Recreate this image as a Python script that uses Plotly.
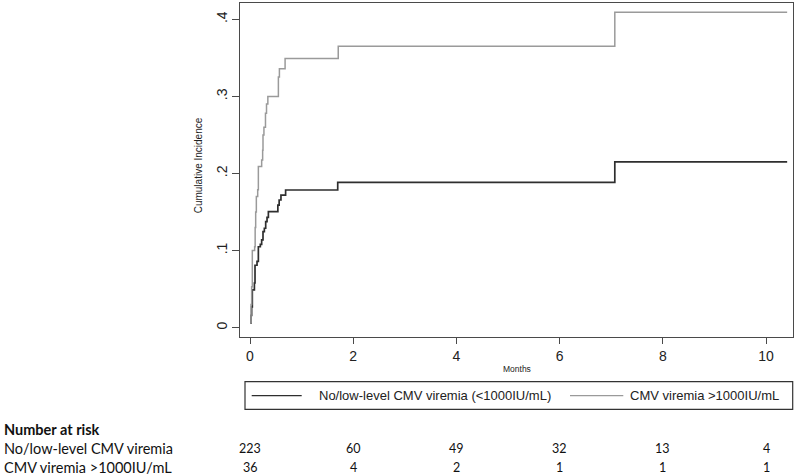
import plotly.graph_objects as go

# ---- data ----
low_name = "No/low-level CMV viremia (<1000IU/mL)"
high_name = "CMV viremia >1000IU/mL"

low_months = [0.006, 0.02, 0.032, 0.045, 0.085, 0.097, 0.136, 0.162, 0.20, 0.226, 0.252,
              0.278, 0.304, 0.33, 0.356, 0.54, 0.565, 0.60, 0.69, 1.70, 7.07, 10.41]
low_cuminc = [0.006, 0.016, 0.027, 0.049, 0.058, 0.081, 0.086, 0.105, 0.108, 0.114, 0.1245,
              0.129, 0.1375, 0.143, 0.1505, 0.159, 0.1656, 0.172, 0.1786, 0.1886, 0.215, 0.215]

high_months = [0.006, 0.02, 0.032, 0.045, 0.09, 0.10, 0.11, 0.123, 0.149, 0.162, 0.226, 0.245,
               0.252, 0.27, 0.30, 0.32, 0.346, 0.55, 0.57, 0.68, 1.71, 7.07, 10.41]
high_cuminc = [0.006, 0.03, 0.053, 0.10, 0.105, 0.13, 0.15, 0.17, 0.179, 0.209, 0.2175, 0.23,
               0.25, 0.26, 0.278, 0.29, 0.30, 0.325, 0.336, 0.349, 0.365, 0.409, 0.409]

x_ticks = [0, 2, 4, 6, 8, 10]
y_ticks = [0, 0.1, 0.2, 0.3, 0.4]
y_tick_labels = ["0", ".1", ".2", ".3", ".4"]

risk_times = [0, 2, 4, 6, 8, 10]
risk_low_label = "No/low-level CMV viremia"
risk_high_label = "CMV viremia >1000IU/mL"
risk_low = [223, 60, 49, 32, 13, 4]
risk_high = [36, 4, 2, 1, 1, 1]

# ---- styling ----
W, H = 800, 476
LOW_COLOR = "#2e2e2e"
HIGH_COLOR = "#9a9a9a"
FRAME = "#4a4a4a"
AX_FONT = "Liberation Sans, Arial, sans-serif"
TAB_FONT = "Lato, Carlito, Calibri, sans-serif"


def px_x(v):
    return v / W


def px_y(v):
    return 1 - v / H


fig = go.Figure()
fig.add_trace(go.Scatter(x=low_months, y=low_cuminc, mode="lines", line_shape="hv",
                         name=low_name, showlegend=False,
                         line=dict(color=LOW_COLOR, width=1.7)))
fig.add_trace(go.Scatter(x=high_months, y=high_cuminc, mode="lines", line_shape="hv",
                         name=high_name, showlegend=False,
                         line=dict(color=HIGH_COLOR, width=1.5)))

plot_l, plot_r, plot_t, plot_b = 240.3, 793.3, 2.7, 336.7

fig.update_layout(
    width=W, height=H,
    margin=dict(l=0, r=0, t=0, b=0),
    paper_bgcolor="white", plot_bgcolor="white",
    xaxis=dict(domain=[px_x(plot_l), px_x(plot_r)], range=[-0.188, 10.529],
               tickvals=x_ticks, ticks="outside", ticklen=6, tickwidth=1, tickcolor=FRAME,
               showgrid=False, zeroline=False, showline=True, linecolor=FRAME, linewidth=1.3,
               mirror=True, tickfont=dict(family=AX_FONT, size=14, color="#222")),
    yaxis=dict(domain=[px_y(plot_b), px_y(plot_t)], range=[-0.01167, 0.4215],
               tickvals=y_ticks, ticktext=y_tick_labels, tickangle=-90,
               ticks="outside", ticklen=7, tickwidth=1, tickcolor=FRAME,
               showgrid=False, zeroline=False, showline=True, linecolor=FRAME, linewidth=1.3,
               mirror=True, tickfont=dict(family=AX_FONT, size=14, color="#222")),
)

ann = []
# axis titles
ann.append(dict(text="Cumulative Incidence", x=px_x(198.3), y=px_y(165), xref="paper", yref="paper",
                textangle=-90, showarrow=False, xanchor="center", yanchor="middle",
                font=dict(family=AX_FONT, size=10, color="#222")))
ann.append(dict(text="Months", x=px_x(516.5), y=px_y(369), xref="paper", yref="paper",
                showarrow=False, xanchor="center", yanchor="middle",
                font=dict(family=AX_FONT, size=8.5, color="#222")))

# legend box
shapes = [
    dict(type="rect", xref="paper", yref="paper", x0=px_x(245), x1=px_x(792.7),
         y0=px_y(409.3), y1=px_y(381.7), line=dict(color="#333", width=1.2)),
    dict(type="line", xref="paper", yref="paper", x0=px_x(251.7), x1=px_x(301.7),
         y0=px_y(395.7), y1=px_y(395.7), line=dict(color=LOW_COLOR, width=1.3)),
    dict(type="line", xref="paper", yref="paper", x0=px_x(570), x1=px_x(623.3),
         y0=px_y(395.7), y1=px_y(395.7), line=dict(color=HIGH_COLOR, width=1.3)),
]
ann.append(dict(text=low_name, x=px_x(316.7), y=px_y(395.7), xref="paper", yref="paper",
                showarrow=False, xanchor="left", yanchor="middle",
                font=dict(family=AX_FONT, size=13, color="#222")))
ann.append(dict(text=high_name, x=px_x(628.3), y=px_y(395.7), xref="paper", yref="paper",
                showarrow=False, xanchor="left", yanchor="middle",
                font=dict(family=AX_FONT, size=13, color="#222")))

# number-at-risk table
row_head, row_low, row_high = 429, 448, 467
ann.append(dict(text="<b>Number at risk</b>", x=px_x(2), y=px_y(row_head), xref="paper", yref="paper",
                showarrow=False, xanchor="left", yanchor="middle",
                font=dict(family=TAB_FONT, size=14.5, color="#111")))
ann.append(dict(text=risk_low_label, x=px_x(2), y=px_y(row_low), xref="paper", yref="paper",
                showarrow=False, xanchor="left", yanchor="middle",
                font=dict(family=TAB_FONT, size=14.5, color="#111")))
ann.append(dict(text=risk_high_label, x=px_x(2), y=px_y(row_high), xref="paper", yref="paper",
                showarrow=False, xanchor="left", yanchor="middle",
                font=dict(family=TAB_FONT, size=14.5, color="#111")))
for t, n in zip(risk_times, risk_low):
    ann.append(dict(text=str(n), x=t, y=px_y(row_low), xref="x", yref="paper",
                    showarrow=False, xanchor="center", yanchor="middle",
                    font=dict(family=TAB_FONT, size=12.5, color="#111")))
for t, n in zip(risk_times, risk_high):
    ann.append(dict(text=str(n), x=t, y=px_y(row_high), xref="x", yref="paper",
                    showarrow=False, xanchor="center", yanchor="middle",
                    font=dict(family=TAB_FONT, size=12.5, color="#111")))

fig.update_layout(annotations=ann, shapes=shapes)
fig.write_html("out.html", config={"displayModeBar": False},
               post_script="document.body.style.margin='0';document.body.style.overflow='hidden';")
